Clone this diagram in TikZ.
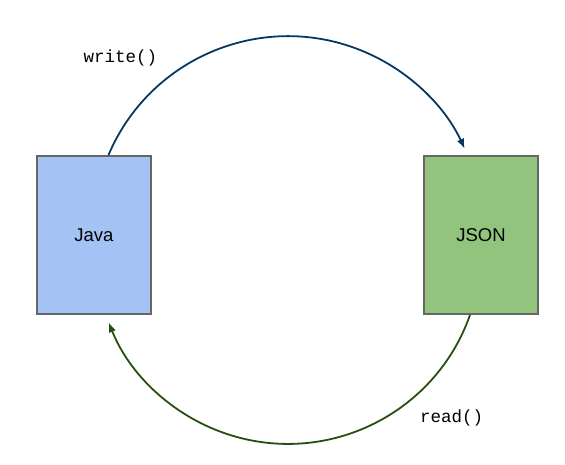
\documentclass[tikz,border=0pt]{standalone}
\usepackage{fontspec}
\setmainfont{Liberation Sans}
\setmonofont{Liberation Mono}
\usetikzlibrary{arrows.meta,calc}
\definecolor{javafill}{HTML}{A4C2F4}
\definecolor{jsonfill}{HTML}{93C47D}
\definecolor{boxline}{HTML}{666666}
\definecolor{writecol}{HTML}{073763}
\definecolor{readcol}{HTML}{274E13}
\tikzset{
  databox/.style={draw=boxline, line width=2pt, minimum width=114pt, minimum height=158pt, inner sep=0pt, font=\fontsize{18.5}{21}\selectfont},
  flow/.style={line width=1.8pt, -{Latex[length=10pt,width=7.5pt]}},
  fnlabel/.style={font=\ttfamily\fontsize{17.5}{20}\selectfont, inner sep=0pt}
}
\begin{document}
\begin{tikzpicture}[x=1pt,y=1pt]
\useasboundingbox (0,0) rectangle (565,465);
\node[databox, fill=javafill] (java) at (94,230) {Java};
\node[databox, fill=jsonfill] (json) at (481,230) {JSON};
\draw[flow, writecol] ($(java.north)+(14.5,0)$) arc[start angle=157, end angle=25, radius=195pt];
\draw[flow, readcol] ($(json.south)+(-11,0)$) arc[start angle=-19.4, end angle=-158.3, radius=193pt];
\node[fnlabel] (wlabel) at (120.5,407.5) {write()};
\node[fnlabel] (rlabel) at (451.7,47.5) {read()};
\end{tikzpicture}
\end{document}
